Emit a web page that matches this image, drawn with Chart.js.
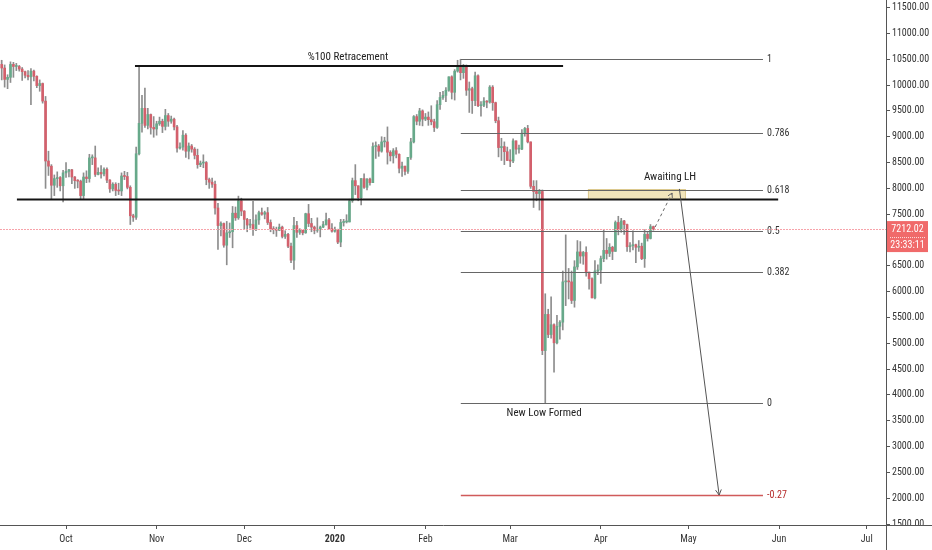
<!DOCTYPE html>
<html><head><meta charset="utf-8">
<script src="https://cdn.jsdelivr.net/npm/chart.js@4.4.0/dist/chart.umd.min.js"></script>
<style>html,body{margin:0;padding:0;background:#fff;overflow:hidden}canvas{display:block}</style>
</head><body>
<canvas id="c" width="932" height="550"></canvas>
<script>
// Daily BTC/USD candles, day 0 = 2019-09-08, last = 2020-04-19
const firstDay = '2019-09-08';
const opens = [
 // Sep
 10480,10400,10330,10110,10150,10400,10360,10360,10310,10260,10190,10160,10270,10170,9990,10030,9690,8530,8430,8060,8190,8210,8050,
 // Oct
 8300,8330,8360,8220,8150,8140,7860,8220,8190,8590,8590,8270,8310,8280,8370,8160,7990,8080,7960,7950,8240,8230,8020,7470,7440,8670,9260,9550,9220,9430,9180,
 // Nov
 9150,9250,9300,9200,9410,9300,9340,9190,8780,8800,9030,8720,8820,8760,8640,8460,8490,8500,8170,8120,8080,7620,7280,7320,6900,7140,7160,7520,7430,7760,
 // Dec
 7560,7400,7290,7300,7200,7390,7530,7500,7530,7340,7220,7200,7190,7250,7070,7110,6880,6610,7280,7150,7190,7140,7510,7320,7250,7190,7200,7250,7300,7390,7220,
 // Jan
 7170,7200,6960,7340,7350,7350,7760,8150,8050,7820,8190,8020,8180,8110,8810,8820,8720,8900,8900,8700,8630,8730,8660,8390,8430,8330,8600,8900,9390,9300,9500,
 // Feb
 9340,9380,9330,9290,9180,9620,9760,9800,9900,10160,9860,10270,10360,10240,10370,9900,9930,9700,10180,9600,9610,9690,9670,9960,9660,9310,8790,8810,8710,
 // Mar
 8540,8530,8920,8760,8760,9070,9160,8900,8040,7940,7900,7940,4860,5560,5170,5360,5010,5330,5410,6190,6200,6190,5830,6480,6770,6690,6760,6380,6250,5880,6400,
 // Apr
 6420,6640,6800,6740,6860,6780,7340,7200,7370,7300,6870,6890,6910,6860,6880,6640,7110,7030,7260
];
const highs = [
 10550,10480,10390,10200,10450,10440,10420,10380,10340,10270,10280,10320,10290,10180,10100,10040,9780,8720,8460,8260,8320,8230,8350,
 8500,8370,8370,8230,8170,8160,8300,8340,8660,8650,8820,8400,8440,8400,8400,8170,8110,8110,8100,8300,8330,8310,8050,7500,8800,10370,9800,9940,9550,9440,9390,
 9300,9380,9340,9530,9450,9400,9360,9220,8880,9120,9060,8880,8850,8790,8760,8530,8650,8520,8200,8200,8140,7710,7350,7330,7360,7330,7650,7640,7850,7810,
 7570,7420,7400,7750,7490,7560,7620,7560,7630,7390,7260,7250,7310,7270,7180,7130,6940,7440,7360,7220,7190,7520,7690,7420,7270,7430,7270,7360,7520,7420,7320,
 7250,7210,7400,7400,7490,7790,8200,8460,8050,8190,8280,8190,8200,8880,8900,8850,9000,8990,9190,8730,8770,8790,8670,8510,8430,8600,8970,9410,9430,9550,9520,
 9450,9480,9600,9340,9700,9860,9880,9950,10160,10180,10300,10480,10500,10400,10390,10060,9960,10250,10200,9680,9760,9700,9990,9990,9670,9380,8970,8900,8800,
 8750,8960,8920,8840,9140,9180,9220,8900,8150,8150,7980,7970,5960,5660,5900,5380,5540,5440,6400,7100,6450,6400,6600,6990,6970,6780,6870,6380,6270,6600,6520,
 6690,7200,7030,6930,6880,7370,7460,7420,7380,7310,6950,7180,6920,6990,6940,7200,7150,7300,7270
];
const lows = [
 10340,10100,9960,9930,10050,10150,10280,10270,10090,10140,10100,9620,10080,9950,9880,9650,8000,8250,7800,7860,8020,7950,7740,
 8210,8220,8090,8000,8010,7790,7790,8110,8120,8460,8230,8260,8200,8240,8110,7920,7950,7860,7880,7860,8170,7990,7300,7360,7400,8650,9090,9180,9150,9050,8990,
 9030,9220,9080,9130,9200,9260,9130,8700,8760,8740,8600,8570,8700,8570,8390,8420,8400,8070,8000,8020,7500,6820,7080,6860,6520,7050,6850,7380,7400,7470,
 7220,7160,7230,7090,7180,7300,7480,7410,7300,7160,7120,7070,7180,7040,7030,6850,6560,6430,7050,7110,7100,7130,7260,7160,7120,7150,7060,7240,7290,7210,7150,
 7150,6930,6870,7270,7330,7350,7730,7880,7760,7680,8000,7970,8060,8110,8580,8620,8700,8800,8470,8530,8490,8590,8300,8230,8260,8290,8560,8880,9230,9220,9210,
 9310,9220,9230,9100,9160,9530,9720,9680,9880,9730,9710,10250,10100,10130,9800,9470,9450,9600,9580,9400,9580,9560,9650,9510,9270,8610,8540,8460,8540,
 8420,8500,8660,8680,8750,9010,8880,8000,7630,7760,7580,4780,3850,5110,5100,4440,4990,5080,5260,5730,5860,5770,5700,6430,6550,6530,6300,6050,5880,5860,6330,
 6160,6580,6630,6680,6620,6780,7100,7150,7110,6780,6770,6810,6560,6780,6620,6470,6980,7020,7190
];
const closes = [
 10400,10330,10110,10150,10400,10360,10360,10310,10260,10190,10160,10270,10170,9990,10030,9690,8530,8430,8060,8190,8210,8050,8300,
 8330,8360,8220,8150,8140,7860,8220,8190,8590,8590,8270,8310,8280,8370,8160,7990,8080,7960,7950,8240,8230,8020,7470,7440,8670,9260,9550,9220,9430,9180,9150,
 9250,9300,9200,9410,9300,9340,9190,8780,8800,9030,8720,8820,8760,8640,8460,8490,8500,8170,8120,8080,7620,7280,7320,6900,7140,7160,7520,7430,7760,7560,
 7400,7290,7300,7200,7390,7530,7500,7530,7340,7220,7200,7190,7250,7070,7110,6880,6610,7280,7150,7190,7140,7510,7320,7250,7190,7200,7250,7300,7390,7220,7170,
 7200,6960,7340,7350,7350,7760,8150,8050,7820,8190,8020,8180,8110,8810,8820,8720,8900,8900,8700,8630,8730,8660,8390,8430,8330,8600,8900,9390,9300,9500,9340,
 9380,9330,9290,9180,9620,9760,9800,9900,10160,9860,10270,10360,10240,10370,9900,9930,9700,10180,9600,9610,9690,9670,9960,9660,9310,8790,8810,8710,8540,
 8530,8920,8760,8760,9070,9160,8900,8040,7940,7900,7940,4860,5560,5170,5360,5010,5330,5410,6190,6200,6190,5830,6480,6770,6690,6760,6380,6250,5880,6400,6420,
 6640,6800,6740,6860,6780,7340,7200,7370,7300,6870,6890,6910,6860,6880,6640,7110,7030,7260,7212.02
];

// Time axis ticks (day index of month starts)
const monthTickDays = [23, 54, 84, 115, 146, 175, 206, 236, 267, 297];
const monthTickLabels = ['Oct', 'Nov', 'Dec', '2020', 'Feb', 'Mar', 'Apr', 'May', 'Jun', 'Jul'];
// Price axis ticks
const priceTicks = [1500, 2000, 2500, 3000, 3500, 4000, 4500, 5000, 5500, 6000, 6500, 7000, 7500, 8000, 8500, 9000, 9500, 10000, 10500, 11000, 11500];

// Fibonacci retracement levels
const fibLevels = [10500, 9077, 7960, 7175, 6390, 3850, 2055];
const fibLabels = ['1', '0.786', '0.618', '0.5', '0.382', '0', '-0.27'];

const retraceLevel = 10370;
const supportLevel = 7785;
const lastPrice = 7212.02;
const countdown = '23:33:11';

// Drawing geometry in data coordinates (day index, price)
const drawings = {
  fibFrom: 158.1, fibTo: 261.5, fibLabelAt: 262.9,
  retraceFrom: 46.6, retraceTo: 193.1,
  supportFrom: 6.2, supportTo: 266.7,
  zoneFrom: 201.6, zoneTo: 234.8, zoneLow: 7795, zoneHigh: 7988,
  dashed: [[224.6, 7252], [230.4, 7910]],
  arrow: [[232.9, 7990], [246.5, 2063]],
  texts: [
    {t: '%100 Retracement', x: 119.5, y: 10545},
    {t: 'Awaiting LH', x: 229.7, y: 8225},
    {t: 'New Low Formed', x: 186.6, y: 3650}
  ]
};

const FONT = "'Liberation Sans Narrow', 'Roboto Condensed', 'DejaVu Sans Condensed', sans-serif";
const UP = '#67a98a', DOWN = '#d3606c', WICK = '#8d8d8d';

const bodies = opens.map((o, i) => ({x: i, y: [o, closes[i]]}));
const wicks = lows.map((l, i) => ({x: i, y: [l, highs[i]]}));
const bodyColors = opens.map((o, i) => closes[i] >= o ? UP : DOWN);

function arrowHead(ctx, x1, y1, x2, y2, len) {
  const a = Math.atan2(y2 - y1, x2 - x1);
  ctx.beginPath();
  ctx.moveTo(x2 - len * Math.cos(a - 0.5), y2 - len * Math.sin(a - 0.5));
  ctx.lineTo(x2, y2);
  ctx.lineTo(x2 - len * Math.cos(a + 0.5), y2 - len * Math.sin(a + 0.5));
  ctx.stroke();
}

const overlay = {
  id: 'overlay',
  afterDatasetsDraw(chart) {
    const {ctx, chartArea: a, scales: {x, y}} = chart;
    const X = v => x.getPixelForValue(v), Y = v => y.getPixelForValue(v);
    const d = drawings;
    ctx.save();
    ctx.beginPath(); ctx.rect(a.left, a.top, a.right - a.left, a.bottom - a.top); ctx.clip();

    // zone
    ctx.fillStyle = 'rgba(238,222,170,0.8)';
    ctx.strokeStyle = '#dcc98e';
    ctx.lineWidth = 1;
    const zx = X(d.zoneFrom), zy = Y(d.zoneHigh);
    ctx.fillRect(zx, zy, X(d.zoneTo) - zx, Y(d.zoneLow) - zy);
    ctx.strokeRect(zx + 0.5, zy + 0.5, X(d.zoneTo) - zx, Y(d.zoneLow) - zy);

    // fib lines
    fibLevels.forEach((lv, i) => {
      const neg = fibLabels[i] === '-0.27';
      ctx.strokeStyle = neg ? '#d05a5a' : '#666';
      ctx.lineWidth = neg ? 1.6 : 1;
      const yy = Math.round(Y(lv)) + 0.5;
      ctx.beginPath(); ctx.moveTo(X(d.fibFrom), yy); ctx.lineTo(X(d.fibTo), yy); ctx.stroke();
      ctx.fillStyle = neg ? '#b52a2a' : '#333';
      ctx.font = '10px ' + FONT;
      ctx.textAlign = 'left'; ctx.textBaseline = 'middle';
      ctx.fillText(fibLabels[i], X(d.fibLabelAt), yy);
    });

    // thick black lines
    ctx.strokeStyle = '#141414'; ctx.lineWidth = 2;
    ctx.beginPath(); ctx.moveTo(X(d.retraceFrom), Y(retraceLevel)); ctx.lineTo(X(d.retraceTo), Y(retraceLevel)); ctx.stroke();
    ctx.beginPath(); ctx.moveTo(X(d.supportFrom), Y(supportLevel)); ctx.lineTo(X(d.supportTo), Y(supportLevel)); ctx.stroke();

    // current price dotted line (light red dots)
    const py = Math.round(Y(lastPrice));
    ctx.fillStyle = '#f7a3aa';
    for (let px = Math.floor(a.left); px < a.right; px += 3) ctx.fillRect(px, py, 2, 1);

    // dashed projection
    ctx.strokeStyle = '#666'; ctx.lineWidth = 1; ctx.setLineDash([3, 3]);
    const [p1, p2] = d.dashed;
    ctx.beginPath(); ctx.moveTo(X(p1[0]), Y(p1[1])); ctx.lineTo(X(p2[0]), Y(p2[1])); ctx.stroke();
    ctx.setLineDash([]);
    arrowHead(ctx, X(p1[0]), Y(p1[1]), X(p2[0]), Y(p2[1]), 5);

    // long arrow
    const [q1, q2] = d.arrow;
    ctx.strokeStyle = '#555'; ctx.lineWidth = 1;
    ctx.beginPath(); ctx.moveTo(X(q1[0]), Y(q1[1])); ctx.lineTo(X(q2[0]), Y(q2[1])); ctx.stroke();
    arrowHead(ctx, X(q1[0]), Y(q1[1]), X(q2[0]), Y(q2[1]), 6);

    // texts
    ctx.fillStyle = '#222'; ctx.font = '11px ' + FONT;
    ctx.textAlign = 'center'; ctx.textBaseline = 'middle';
    d.texts.forEach(t => ctx.fillText(t.t, X(t.x), Y(t.y)));
    ctx.restore();
  },
  afterDraw(chart) {
    const {ctx, chartArea: a, scales: {y}} = chart;
    ctx.save();
    // mask the axis label that runs below the time axis
    ctx.fillStyle = '#fff';
    ctx.fillRect(a.right + 1, a.bottom + 0.5, 932 - a.right, 550 - a.bottom);
    // axis line extension
    ctx.strokeStyle = '#555'; ctx.lineWidth = 1;
    ctx.beginPath(); ctx.moveTo(a.right + 0.5, a.bottom); ctx.lineTo(a.right + 0.5, 550); ctx.stroke();
    ctx.beginPath(); ctx.moveTo(a.right, a.bottom + 0.5); ctx.lineTo(932, a.bottom + 0.5); ctx.stroke();
    // price label
    const py = y.getPixelForValue(lastPrice);
    ctx.fillStyle = '#f06a6a';
    ctx.fillRect(a.right + 1, py - 8, 41, 31);
    ctx.strokeStyle = 'rgba(255,255,255,0.8)'; ctx.setLineDash([1, 1]);
    ctx.beginPath(); ctx.moveTo(a.right + 4, py + 8.5); ctx.lineTo(a.right + 39, py + 8.5); ctx.stroke();
    ctx.setLineDash([]);
    ctx.fillStyle = '#fff'; ctx.font = '10px ' + FONT;
    ctx.textAlign = 'center'; ctx.textBaseline = 'middle';
    ctx.fillText(lastPrice.toFixed(2), a.right + 21.5, py);
    ctx.fillText(countdown, a.right + 21.5, py + 16);
    ctx.restore();
  }
};

new Chart(document.getElementById('c'), {
  type: 'bar',
  data: {
    datasets: [
      {data: wicks, backgroundColor: WICK, barThickness: 1, grouped: false, order: 2},
      {data: bodies, backgroundColor: bodyColors, barThickness: 2, minBarLength: 1, grouped: false, order: 1}
    ]
  },
  options: {
    responsive: false, animation: false, devicePixelRatio: 1,
    layout: {padding: 0},
    plugins: {legend: {display: false}, tooltip: {enabled: false}},
    scales: {
      x: {
        type: 'linear', min: 0.41, max: 303.6, offset: false,
        afterBuildTicks: s => { s.ticks = monthTickDays.map(v => ({value: v})); },
        ticks: {
          autoSkip: false, maxRotation: 0, padding: 4, color: '#333',
          font: ctx => ({family: FONT, size: 10, weight: (ctx.tick && ctx.tick.value === 115) ? 'bold' : 'normal'}),
          callback: v => { const k = monthTickDays.indexOf(v); return k >= 0 ? monthTickLabels[k] : ''; }
        },
        grid: {drawOnChartArea: false, drawTicks: true, tickLength: 4, color: '#555', offset: false},
        border: {color: '#555', width: 1},
        afterFit: s => { s.height = 25; s.paddingLeft = 0; s.paddingRight = 0; }
      },
      y: {
        type: 'linear', position: 'right', min: 1483, max: 11647,
        afterBuildTicks: s => { s.ticks = priceTicks.map(v => ({value: v})); },
        ticks: {autoSkip: false, padding: 2, color: '#333',
          font: {family: FONT, size: 10}, callback: v => Number(v).toFixed(2)},
        grid: {drawOnChartArea: false, drawTicks: true, tickLength: 4, color: '#555', offset: false},
        border: {color: '#555', width: 1},
        afterFit: s => { s.width = 46; s.paddingTop = 0; s.paddingBottom = 0; }
      }
    }
  },
  plugins: [overlay]
});
</script>
</body></html>
